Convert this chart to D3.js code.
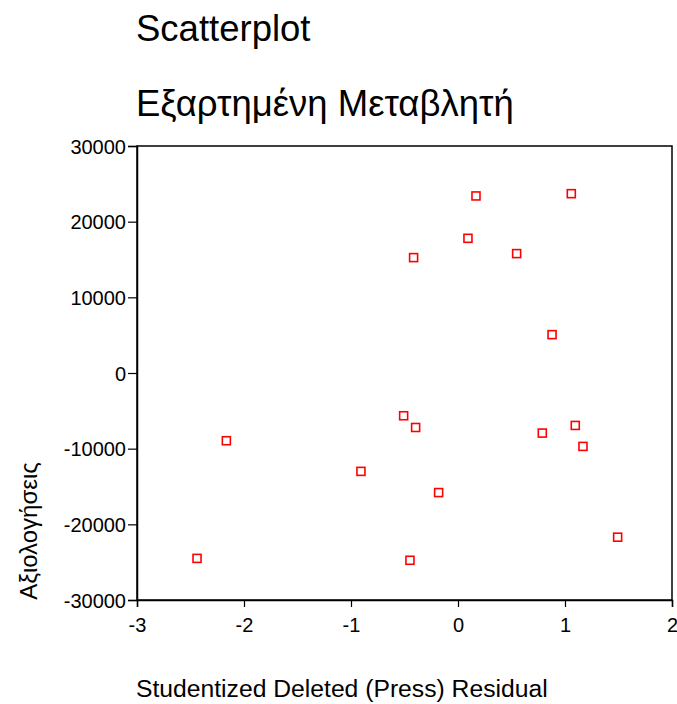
<!DOCTYPE html>
<html>
<head>
<meta charset="utf-8">
<script src="https://cdn.jsdelivr.net/npm/d3@7"></script>
<style>
  body { margin: 0; background: #fff; }
  text { font-family: "Liberation Sans", Arial, sans-serif; }
</style>
</head>
<body>
<div id="chart"></div>
<script>
// Data
const residual = [0.168, 1.059, 0.093, -0.415, 0.548, 0.879,
  -2.165, -0.907, -2.439,
  -0.508, -0.396, 0.788, 1.096, 1.168, -0.181, 1.492, -0.449];
const ratings = [23400, 23700, 17800, 15250, 15780, 5070,
  -8950, -13000, -24500,
  -5650, -7200, -7940, -6930, -9700, -15800, -21700, -24750];
const xTicks = [-3, -2, -1, 0, 1, 2];
const yTicks = [-30000, -20000, -10000, 0, 10000, 20000, 30000];

const W = 677, H = 704;
const margin = { top: 146, left: 137 };
const width  = 672 - margin.left;
const height = 600 - margin.top;

const svg = d3.select("#chart").append("svg")
  .attr("width", W).attr("height", H);

// Titles
svg.append("text").attr("x", 136).attr("y", 41)
  .attr("font-size", 36.5).text("Scatterplot");
svg.append("text").attr("x", 136).attr("y", 116)
  .attr("font-size", 36.5).text("Εξαρτημένη Μεταβλητή");

const g = svg.append("g")
  .attr("transform", `translate(${margin.left},${margin.top})`);

const x = d3.scaleLinear().domain([-3, 2]).range([0, width]);
const y = d3.scaleLinear().domain([-30000, 30000]).range([height, 0]);

// Frame
g.append("rect")
  .attr("width", width).attr("height", height)
  .attr("fill", "none").attr("stroke", "#000").attr("stroke-width", 1.5);

// Axes (plain hyphen minus, like the original)
const fmt = d => String(d);
const xAxis = g.append("g")
  .attr("transform", `translate(0,${height})`)
  .call(d3.axisBottom(x).tickValues(xTicks).tickSize(7).tickPadding(11).tickFormat(fmt));
const yAxis = g.append("g")
  .call(d3.axisLeft(y).tickValues(yTicks).tickSize(9).tickPadding(2).tickFormat(fmt));

[xAxis, yAxis].forEach(a => {
  a.select(".domain").attr("stroke-width", 1.5);
  a.selectAll(".tick line").attr("stroke-width", 1.2);
  a.selectAll(".tick text")
    .attr("font-size", 20)
    .attr("font-family", "Liberation Sans, Arial, sans-serif")
    .attr("fill", "#000");
});
yAxis.selectAll(".tick text").attr("dy", "0.35em");

// Points
g.selectAll("rect.pt")
  .data(residual.map((r, i) => [r, ratings[i]]))
  .enter().append("rect")
    .attr("class", "pt")
    .attr("x", d => x(d[0]) - 4)
    .attr("y", d => y(d[1]) - 4)
    .attr("width", 8).attr("height", 8)
    .attr("fill", "#fff")
    .attr("stroke", "#ff0000")
    .attr("stroke-width", 1.6);

// Axis titles
svg.append("text")
  .attr("x", 136).attr("y", 697)
  .attr("font-size", 24.7)
  .text("Studentized Deleted (Press) Residual");

svg.append("text")
  .attr("transform", "translate(37,531) rotate(-90)")
  .attr("text-anchor", "middle")
  .attr("font-size", 24)
  .text("Αξιολογήσεις");
</script>
</body>
</html>
